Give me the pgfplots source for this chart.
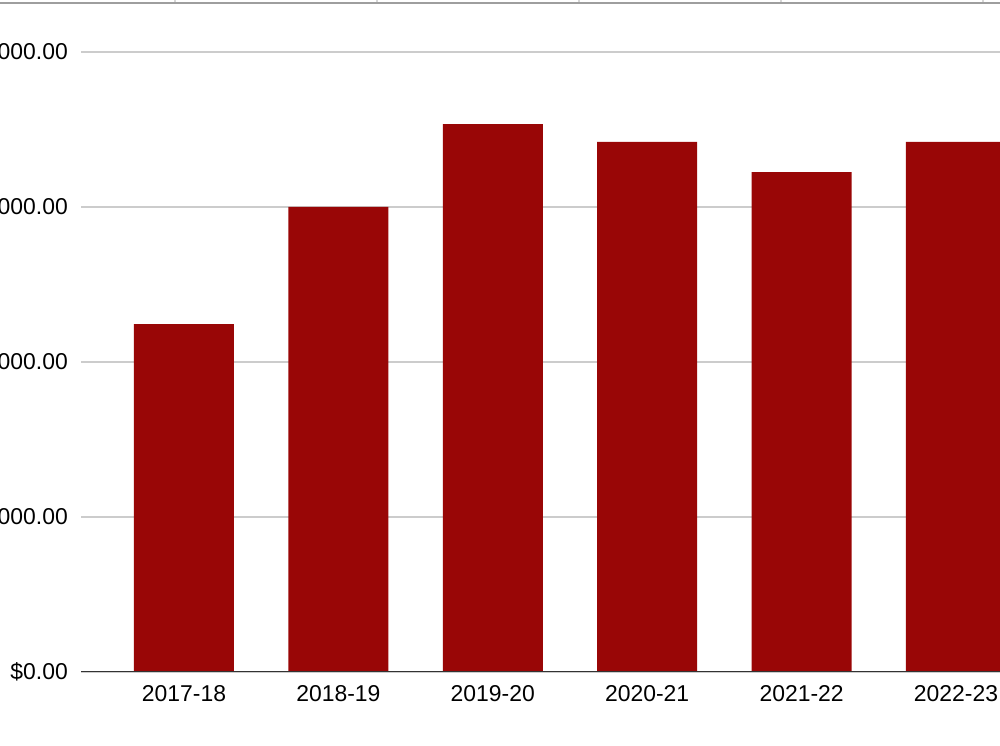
\documentclass[border=0pt]{standalone}
\usepackage{fontspec}
\setmainfont{Liberation Sans}
\usepackage{pgfplots}
\pgfplotsset{compat=1.18}
\definecolor{barred}{RGB}{153,6,6}
\definecolor{gridgray}{RGB}{204,204,204}
\definecolor{basegray}{RGB}{51,51,51}
\definecolor{topgray}{RGB}{158,158,158}
\definecolor{cellgray}{RGB}{214,214,214}

\begin{document}
\begin{tikzpicture}
\useasboundingbox (0bp,0bp) rectangle (1000bp,746bp);
\clip (0bp,0bp) rectangle (1000bp,746bp);
\begin{axis}[
  at={(81bp,74bp)}, anchor=south west,
  scale only axis, width=969bp, height=620bp,
  xmin=-0.667, xmax=5.609, ymin=0, ymax=4000,
  ybar, bar width=100bp,
  xtick={0,1,2,3,4,5},
  xticklabels={2017-18,2018-19,2019-20,2020-21,2021-22,2022-23},
  ytick={0,1000,2000,3000,4000},
  yticklabels={{\$0.00},{\$1,000.00},{\$2,000.00},{\$3,000.00},{\$4,000.00}},
  major tick length=0pt,
  ymajorgrids, grid style={gridgray, line width=1.4bp},
  axis line style={draw=none},
  tick label style={font=\fontsize{23}{27}\selectfont, text=black},
  xticklabel style={anchor=north, inner sep=0pt, yshift=-13bp},
  yticklabel style={anchor=east, inner sep=0pt, xshift=-13bp},
]
\addplot[fill=barred, draw=none] coordinates {
  (0,2245) (1,3000) (2,3535) (3,3420) (4,3225) (5,3420)};
\draw[basegray, line width=2bp] (rel axis cs:0,0) -- (rel axis cs:1,0);
\end{axis}
% spreadsheet cell border along the top edge
\foreach \cx in {175,377,579,781,983}
  \draw[cellgray, line width=1.5bp] (\cx bp,746bp) -- (\cx bp,742bp);
\draw[topgray, line width=2.2bp] (0bp,743bp) -- (1000bp,743bp);
\end{tikzpicture}
\end{document}
